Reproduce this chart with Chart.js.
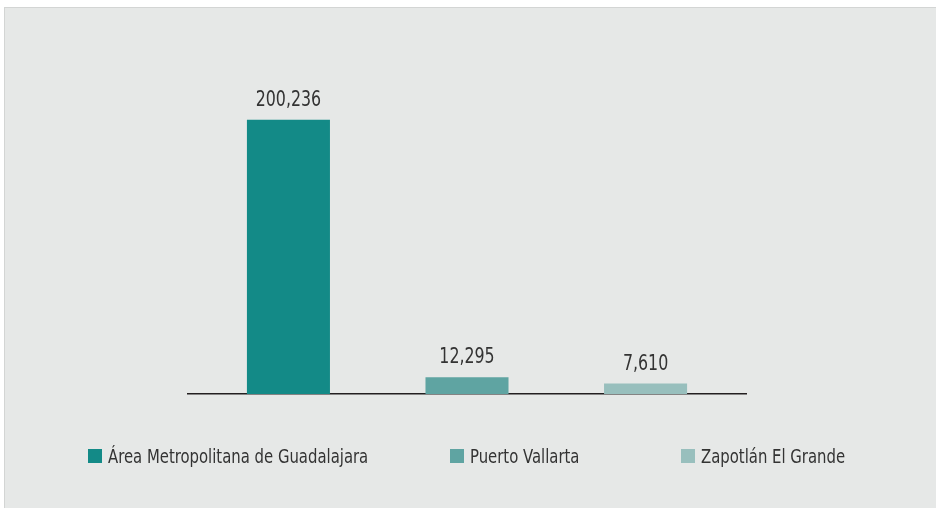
<!DOCTYPE html>
<html>
<head>
<meta charset="utf-8">
<script src="https://cdn.jsdelivr.net/npm/chart.js@4.4.0/dist/chart.umd.min.js"></script>
<style>
  html, body { margin: 0; padding: 0; background: #ffffff; }
  #panel {
    position: absolute; left: 4px; top: 7px; width: 931px; height: 500px;
    background: #e6e8e7; border-left: 1px solid #d3d5d4; border-top: 1px solid #d3d5d4;
  }
  #wrap { position: absolute; left: 0; top: 0; width: 931px; height: 500px; }
  #legend {
    position: absolute; left: 83px; top: 437px; display: flex; align-items: center;
    font-family: 'Liberation Sans Narrow', 'DejaVu Sans Condensed', sans-serif;
    font-size: 19px; color: #333333;
  }
  .item { display: flex; align-items: center; white-space: nowrap; }
  .box { width: 14px; height: 14px; margin-right: 6px; flex: none; }
  .txt { display: inline-block; transform: scaleX(0.87); transform-origin: left center; }
</style>
</head>
<body>
<div id="panel">
  <div id="wrap"><canvas id="myChart"></canvas></div>
  <div id="legend"></div>
</div>
<script>
const regions = ["Área Metropolitana de Guadalajara", "Puerto Vallarta", "Zapotlán El Grande"];
const values = [200236, 12295, 7610];
const colors = ["#138a87", "#5fa4a2", "#98bfbd"];

const fontStack = "'Liberation Sans Narrow', 'DejaVu Sans Condensed', sans-serif";

// numbers over the bars, squeezed a bit to look like the condensed original
const valueLabels = {
    id: "valueLabels",
    afterDatasetsDraw: (chart) => {
        const ctx = chart.ctx;
        chart.data.datasets.forEach((ds, i) => {
            const bar = chart.getDatasetMeta(i).data[0];
            ctx.save();
            ctx.font = "22px " + fontStack;
            ctx.fillStyle = "#333333";
            ctx.textAlign = "center";
            ctx.textBaseline = "alphabetic";
            ctx.translate(bar.x, bar.y - 14);
            ctx.scale(0.8, 1);
            ctx.fillText(ds.data[0].toLocaleString("en-US"), 0, 0);
            ctx.restore();
        });
    },
};

const renderLegend = (chart) => {
    const legend = document.getElementById("legend");
    const widths = [362, 231, null];
    chart.data.datasets.forEach((ds, i) => {
        const item = document.createElement("div");
        item.className = "item";
        if (widths[i]) item.style.width = widths[i] + "px";
        const box = document.createElement("span");
        box.className = "box";
        box.style.background = ds.backgroundColor;
        const text = document.createElement("span");
        text.className = "txt";
        text.textContent = ds.label;
        item.appendChild(box);
        item.appendChild(text);
        legend.appendChild(item);
    });
};

const ctx = document.getElementById("myChart");
const chart = new Chart(ctx, {
    type: "bar",
    data: {
        labels: [""],
        datasets: regions.map((name, i) => ({
            label: name,
            data: [values[i]],
            backgroundColor: colors[i],
            categoryPercentage: 0.96,
            barPercentage: 0.465,
        })),
    },
    options: {
        responsive: true,
        maintainAspectRatio: false,
        animation: false,
        layout: { padding: { left: 183, right: 190, top: 71, bottom: 114 } },
        plugins: { legend: { display: false }, tooltip: { enabled: false } },
        scales: {
            x: {
                ticks: { display: false },
                grid: { display: false, drawTicks: false },
                border: { display: true, color: "#231f20", width: 1.5 },
            },
            y: { display: false, min: 0, max: 230000 },
        },
    },
    plugins: [valueLabels],
});
renderLegend(chart);
</script>
</body>
</html>
